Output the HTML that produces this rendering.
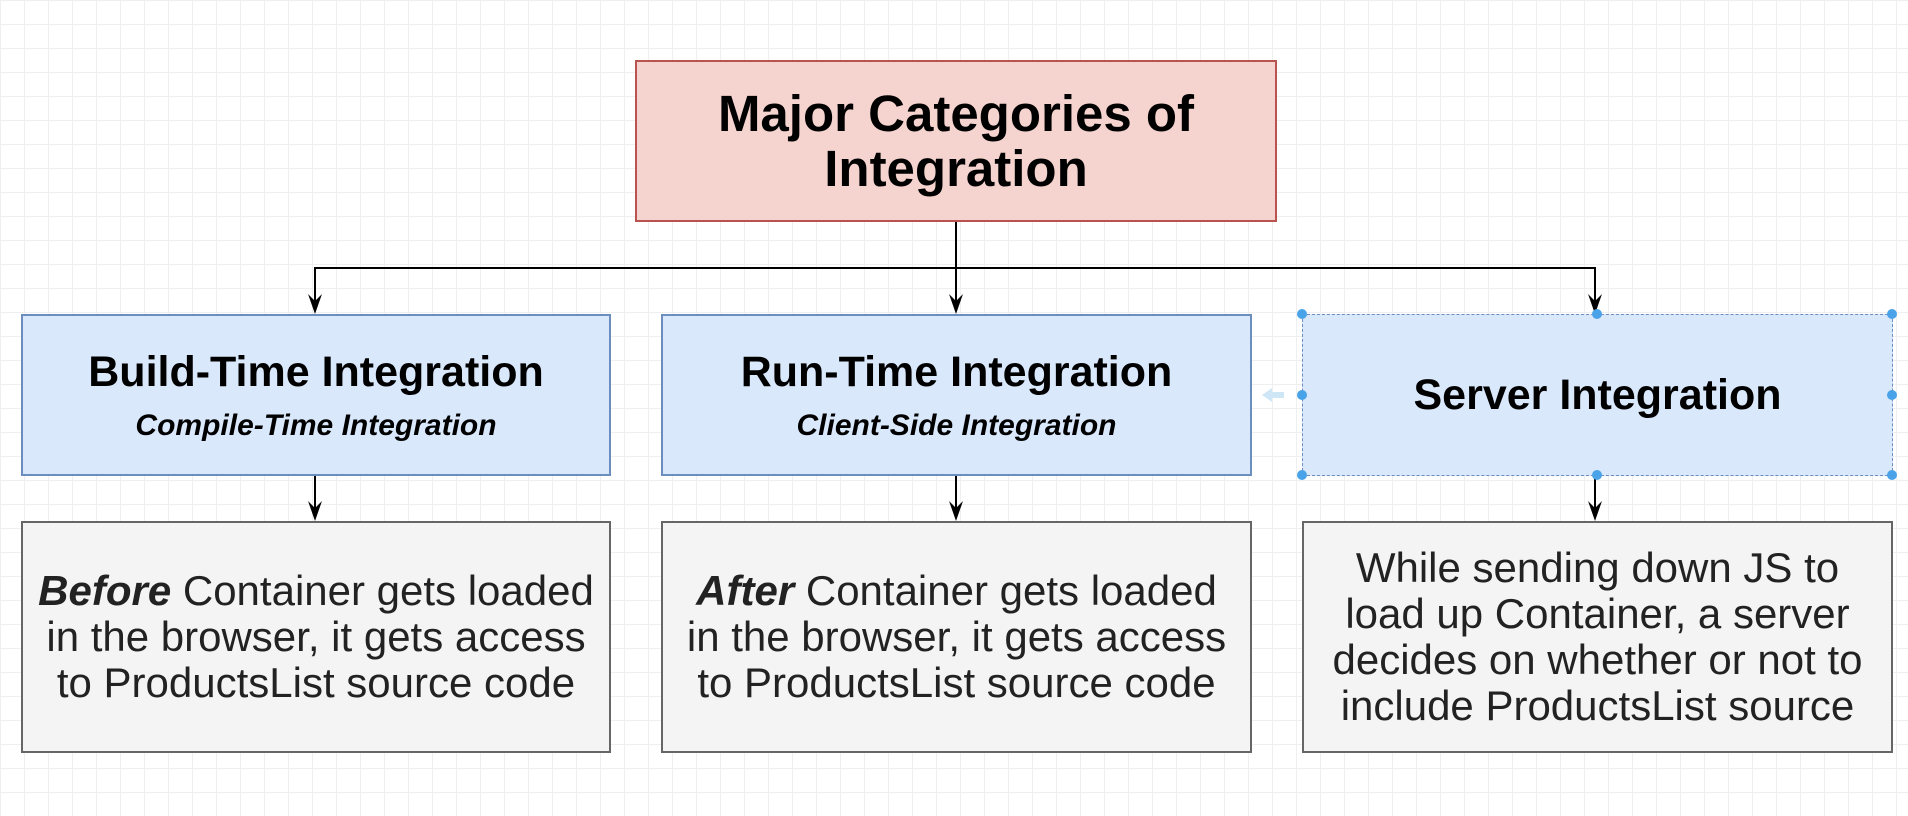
<!DOCTYPE html>
<html><head><meta charset="utf-8"><style>
body{margin:0;width:1908px;height:816px;overflow:hidden;background:#fff;
background-image:linear-gradient(#efefef 1px,transparent 1px),linear-gradient(90deg,#efefef 1px,transparent 1px);
background-size:24px 24px;font-family:"Liberation Sans",sans-serif;}
.b{position:absolute;box-sizing:border-box;display:flex;flex-direction:column;align-items:center;justify-content:center;text-align:center;white-space:nowrap;}
</style></head><body>
<svg width="1908" height="816" style="position:absolute;left:0;top:0">
<g stroke="#000" stroke-width="2" fill="none">
<path d="M956 221 V268 H315 V305"/>
<path d="M956 268 V305"/>
<path d="M956 268 H1595 V305"/>
<path d="M315 475 V512"/>
<path d="M956 475 V512"/>
<path d="M1595 475 V512"/>
</g>
<g fill="#000">
<path d="M308 294 L315 314 L322 294 L315 301 Z"/>
<path d="M949 294 L956 314 L963 294 L956 301 Z"/>
<path d="M1588 294 L1595 314 L1602 294 L1595 301 Z"/>
<path d="M308 501 L315 521 L322 501 L315 508 Z"/>
<path d="M949 501 L956 521 L963 501 L956 508 Z"/>
<path d="M1588 501 L1595 521 L1602 501 L1595 508 Z"/>
</g>
</svg>
<div class="b" style="left:635px;top:60px;width:642px;height:162px;background:#f5d3cf;border:2px solid #b85450;font-weight:bold;font-size:51px;line-height:55px;">Major Categories of<br>Integration</div>
<div class="b" style="left:21px;top:314px;width:590px;height:162px;background:#dae8fc;border:2px solid #6c8ebf;">
<div style="font-weight:bold;font-size:43px">Build-Time Integration</div><div style="font-weight:bold;font-style:italic;font-size:30px;margin-top:12px">Compile-Time Integration</div></div>
<div class="b" style="left:661px;top:314px;width:591px;height:162px;background:#dae8fc;border:2px solid #6c8ebf;">
<div style="font-weight:bold;font-size:43px">Run-Time Integration</div><div style="font-weight:bold;font-style:italic;font-size:30px;margin-top:12px">Client-Side Integration</div></div>
<div class="b" style="left:1302px;top:314px;width:591px;height:162px;background:#dae8fc;border:1px dashed #6c8ebf;">
<div style="font-weight:bold;font-size:43px">Server Integration</div></div>
<div class="b" style="left:21px;top:521px;width:590px;height:232px;background:#f4f4f4;border:2px solid #666;font-size:42px;line-height:46px;color:#222"><div><b><i>Before</i></b> Container gets loaded<br>in the browser, it gets access<br>to ProductsList source code</div></div>
<div class="b" style="left:661px;top:521px;width:591px;height:232px;background:#f4f4f4;border:2px solid #666;font-size:42px;line-height:46px;color:#222"><div><b><i>After</i></b> Container gets loaded<br>in the browser, it gets access<br>to ProductsList source code</div></div>
<div class="b" style="left:1302px;top:521px;width:591px;height:232px;background:#f4f4f4;border:2px solid #666;font-size:42px;line-height:46px;color:#222"><div>While sending down JS to<br>load up Container, a server<br>decides on whether or not to<br>include ProductsList source</div></div>
<svg width="1908" height="816" style="position:absolute;left:0;top:0">
<g fill="#4aa3e8">
<circle cx="1302" cy="314" r="5"/><circle cx="1597" cy="314" r="5"/><circle cx="1892" cy="314" r="5"/>
<circle cx="1302" cy="395" r="5"/><circle cx="1892" cy="395" r="5"/>
<circle cx="1302" cy="475" r="5"/><circle cx="1597" cy="475" r="5"/><circle cx="1892" cy="475" r="5"/>
</g>
<path d="M1262 395 l10 -7 v4 h12 v6 h-12 v4 z" fill="#cfe6f7"/>
</svg>
</body></html>
